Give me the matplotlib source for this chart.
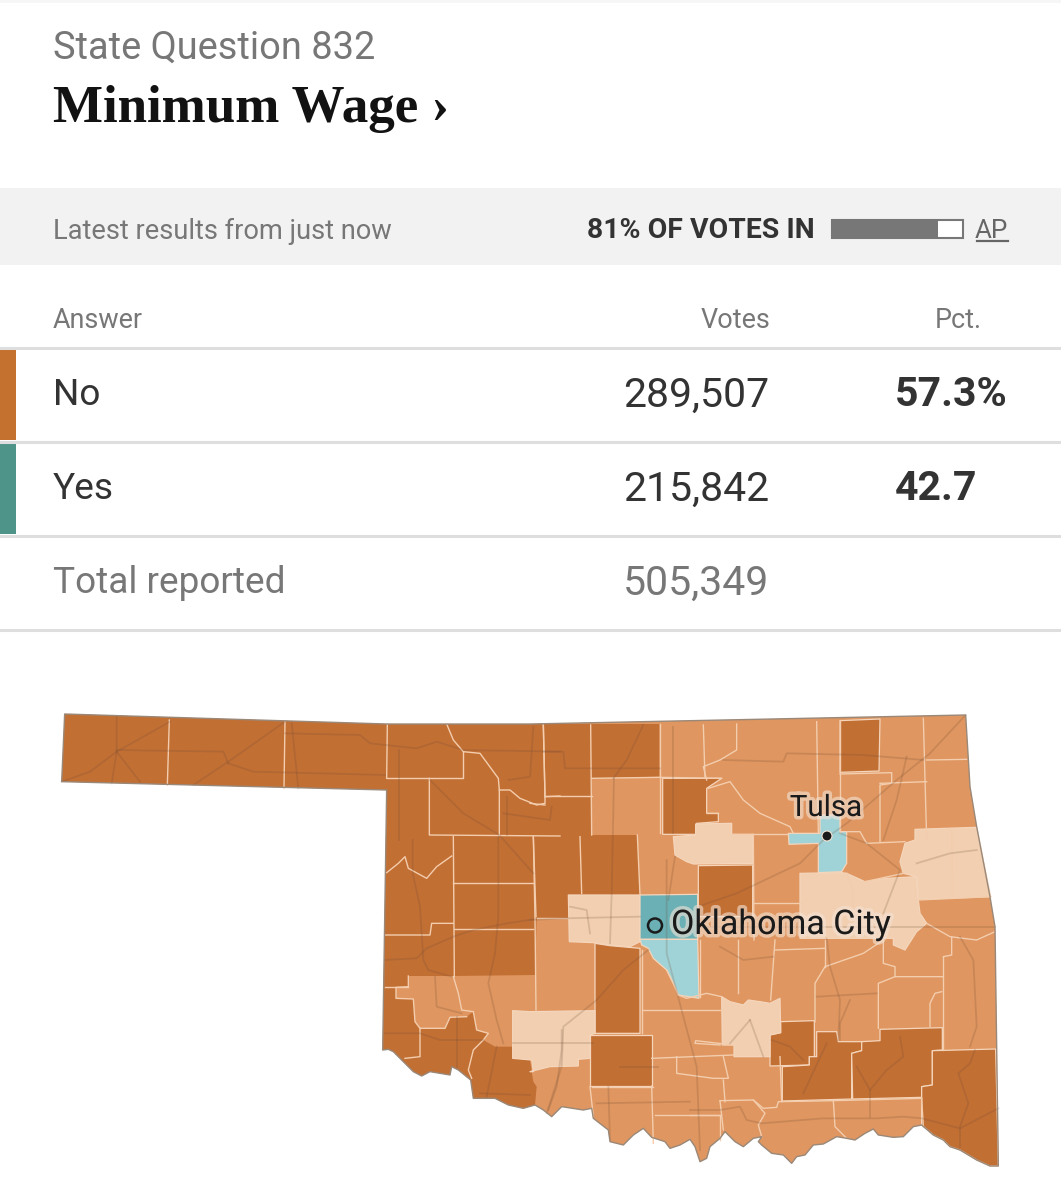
import matplotlib
matplotlib.use("Agg")
import matplotlib.pyplot as plt
from matplotlib.patches import Polygon, Rectangle, Circle
import matplotlib.patheffects as pe

W, H = 1061, 1200
SANS = "Roboto"

# ---------- table data ----------
kicker = "State Question 832"
title = "Minimum Wage ›"
status = "Latest results from just now"
votes_in_pct = 81
source = "AP"
headers = ["Answer", "Votes", "Pct."]
answers = ["No", "Yes"]
votes = ["289,507", "215,842"]
pcts = ["57.3%", "42.7"]
answer_colors = ["#C4712F", "#4F9489"]
total_label = "Total reported"
total_votes = "505,349"

# ---------- map geometry (traced outlines in crop frames) ----------
def A(pts): return [(40 + x / 3, 700 + y / 3) for x, y in pts]
def B(pts): return [(530 + x / 3, 700 + y / 3) for x, y in pts]
def C(pts): return [(380 + x / 3, 1030 + y / 3) for x, y in pts]
def D(pts): return [(690 + x / 3, 1030 + y / 3) for x, y in pts]

river_mccurtain = D([(925,408),(900,408),(860,390),(810,360),(780,350),(760,330),(730,315),(695,285)])
river_mid_east = D([(670,290),(640,320),(610,322),(565,315),(550,297),(525,310),(495,330),(470,325),(440,320),
    (400,342),(370,345),(345,375),(320,380),(305,400),(280,375),(245,370),(215,345),(205,335),(215,320),(190,325),
    (160,350),(135,335),(105,305),(90,325),(60,350),(50,385),(30,395),(15,350),(0,328)])
river_mid_west = C([(900,345),(870,355),(855,335),(815,322),(790,295),(760,315),(730,345),(690,335),(685,300),(640,265),
    (635,235),(610,240),(545,230),(515,260),(490,240)])
river_dark_west = C([(465,225),(430,235),(385,225),(345,205),(280,205),(272,150),(235,120),(215,110),(210,135),(180,130),
    (150,125),(125,138),(100,125),(70,95),(40,65),(25,58),(8,60)])
state_outline = (A([(74,42),(1040,72)]) + B([(0,72),(1307,45),(1320,260),(1340,380),(1380,590),(1395,680)])
    + river_mccurtain + river_mid_east + river_mid_west + river_dark_west + A([(1040,270),(65,245)]))

dark_west = (A([(74,42),(1040,72)]) + B([(0,72),(388,72),(388,230),(185,235),(185,405),(322,405),(330,585),(115,585),(115,655),(20,655)])
    + A([(1485,825),(1240,828),(1105,828),(1105,860),(1068,862),(1068,895),(1120,897),(1125,965),(1140,985),(1215,985),
         (1230,952),(1280,950),(1300,935),(1310,990),(1345,1000),(1330,1020),(1365,1040),(1420,1040),(1420,1075)])
    + C([(450,90),(455,125),(460,155),(470,170)])
    + river_dark_west + A([(1040,270),(65,245)]))
dark_counties = [
    B([(930,62),(1050,57),(1047,213),(930,217)]),
    B([(398,235),(575,235),(530,265),(530,340),(565,340),(565,365),(500,370),(497,403),(398,403)]),
    B([(505,497),(668,495),(668,650),(505,650)]),
    B([(195,730),(240,737),(330,745),(330,1000),(195,1000)]),
    B([(180,1005),(365,1005),(365,1158),(180,1158)]),
    B([(752,965),(853,962),(853,1070),(838,1070),(838,1095),(720,1098),(720,1005),(752,998)]),
    B([(860,995),(920,995),(925,1025),(995,1025),(995,1052),(965,1060),(965,1197),(757,1203),(757,1100),(838,1095),(838,1070),(860,1070)]),
    B([(1050,988),(1237,983),(1237,1050),(1207,1052),(1207,1155),(1175,1160),(1175,1192),(968,1197),(965,1060),(995,1052),(995,1025),(1050,1022)]),
    B([(1207,1052),(1397,1047)]) + river_mccurtain + B([(1175,1160),(1207,1155)]),
]
light_counties = [
    B([(430,410),(497,405),(497,372),(605,370),(605,403),(668,403),(668,490),(490,492),(470,485),(435,465)]),
    B([(115,585),(330,585),(330,725),(300,740),(240,735),(190,728),(118,725)]),
    B([(0,935),(195,932),(195,1000),(180,1005),(180,1075),(145,1078),(145,1098),(60,1100),(0,1115)]) + A([(1480,1115),(1475,1080),(1418,1075),(1418,932)]),
    B([(575,890),(600,905),(640,915),(655,900),(690,905),(720,910),(750,895),(752,998),(720,1005),(720,1070),(612,1070),(612,1035),(577,1035)]),
    B([(810,520),(935,518),(950,520),(1005,545),(1070,535),(1160,530),(1165,600),(1170,640),(1190,670),(1160,695),(1125,750),(1090,735),(1090,715),(810,715)]),
    B([(1155,388),(1340,382),(1382,590),(1165,598),(1160,530),(1120,520),(1110,485),(1125,430),(1155,420)]),
]
teal_dark_counties = [B([(330,585),(503,583),(503,718),(330,718)])]
teal_light_counties = [
    B([(330,718),(503,718),(507,895),(445,885),(430,850),(410,810),(370,775),(355,745),(335,735)]),
    B([(870,345),(930,345),(930,395),(950,395),(950,490),(935,515),(865,518),(865,430),(777,433),(775,400),(870,400)]),
]
county_lines = [A(p) for p in [
    [(388,60),(382,255)], [(735,65),(732,265)], [(1042,72),(1040,235)], [(1040,235),(1270,235),(1270,155)],
    [(1220,72),(1240,120),(1270,155),(1320,160),(1375,235),(1378,270),(1378,405)],
    [(1378,270),(1410,270),(1440,295),(1490,315),(1515,310),(1515,290),(1560,288)], [(1510,75),(1515,290)],
    [(1168,235),(1168,405),(1560,408)], [(1240,410),(1243,830)], [(1480,410),(1485,655),(1488,930)],
    [(1240,550),(1480,550)], [(1243,688),(1480,688)],
    [(1040,518),(1075,490),(1095,470),(1105,505),(1160,535),(1190,500),(1235,468)],
    [(1035,705),(1170,705),(1175,670),(1240,670)], [(1035,860),(1105,860)], [(1140,985),(1140,1070),(1095,1075)],
    [(1240,830),(1255,880),(1265,930),(1300,935)], [(1105,828),(1105,860),(1068,862),(1068,895),(1120,897),(1125,965),(1140,985),(1215,985),(1230,952),(1280,950)],
    [(1300,935),(1310,990),(1345,1000),(1330,1020),(1300,1050),(1285,1110),(1295,1135)],
]] + [B(p) for p in [
    [(40,75),(45,290)], [(182,75),(185,405)], [(45,288),(185,288)], [(0,310),(45,315)],
    [(10,410),(18,650)], [(150,410),(155,580)], [(322,405),(330,585)], [(20,655),(115,655)],
    [(390,72),(390,400)], [(520,75),(525,235)], [(620,72),(620,150),(570,180),(520,200),(530,240)],
    [(185,235),(390,232),(575,235)], [(535,265),(600,245),(640,300),(690,340),(780,380),(790,400)],
    [(530,340),(565,340)], [(605,403),(775,403)], [(860,65),(865,400)], [(930,60),(930,395)],
    [(930,222),(1085,218),(1085,250),(1050,255),(1050,425)], [(1180,55),(1190,420)],
    [(1190,180),(1310,178)], [(1050,250),(1190,245)], [(1010,430),(1125,425)], [(950,395),(990,395),(1010,430)],
    [(1120,520),(1005,545)], [(670,403),(672,720)], [(672,610),(810,610)], [(950,520),(968,570),(970,640)],
    [(1265,385),(1268,595)], [(1165,600),(1382,590)], [(1190,670),(1260,710),(1340,720),(1395,695)],
    [(510,720),(510,890)], [(625,720),(625,880)], [(735,720),(722,900)], [(735,750),(885,745)], [(885,720),(885,800)],
    [(885,800),(1000,760),(1060,720)], [(885,800),(855,850),(855,965)],
    [(1060,720),(1060,790),(1095,800),(1095,830),(1240,830)], [(1240,770),(1240,1050)], [(1240,770),(1265,765),(1265,710)],
    [(1095,830),(1045,850),(1045,985)], [(1235,875),(1215,880),(1200,910),(1200,980)],
    [(335,930),(575,930)], [(335,750),(335,1000)], [(365,1075),(610,1065)], [(610,1035),(497,1022),(495,1030),(570,1035)],
    [(440,1070),(440,1120),(550,1135),(595,1135),(580,1070)], [(365,1158),(370,1330)], [(185,1160),(370,1160)],
    [(375,1245),(570,1245),(570,1320)], [(585,1205),(580,1140)], [(750,1070),(755,1205)],
    [(180,1160),(190,1250)], [(1175,1195),(1180,1280)],
    [(575,890),(530,880),(470,895),(445,885)], [(445,885),(430,850),(410,810)],
]] + [D(p) for p in [
    [(90,212),(190,210),(220,235),(260,232),(265,215),(430,212),(695,205)], [(90,212),(100,300)],
    [(190,210),(225,250),(205,285),(215,320)], [(430,212),(435,290),(470,325)], [(0,255),(90,255)],
]]
road_lines = [A(p) for p in [
    [(65,245),(150,215),(230,155),(390,65)], [(230,50),(230,155),(215,250)], [(230,155),(300,245)],
    [(230,150),(550,155),(565,190)], [(460,255),(565,185),(735,65)], [(565,190),(640,215),(1035,225)],
    [(755,70),(775,265)], [(735,100),(960,105),(990,130),(1130,145),(1190,125),(1270,150),(1560,155)],
    [(1035,780),(1130,775),(1160,745),(1240,710),(1300,690),(1400,670),(1480,658)],
    [(1078,150),(1078,420)], [(1118,420),(1118,520),(1140,620),(1150,780),(1165,810),(1235,830)],
    [(1170,240),(1270,340),(1378,405),(1480,520)], [(1375,410),(1375,650),(1365,760),(1345,850),(1370,960),(1390,1030)],
    [(1185,830),(1190,920),(1265,940)], [(1035,1000),(1140,1000),(1200,1020),(1330,1020)],
    [(1250,950),(1250,1100)], [(1370,1040),(1340,1190)], [(1400,290),(1400,405)], [(1480,80),(1470,230),(1405,240)],
    [(1390,340),(1530,360),(1535,320)],
]] + [B(p) for p in [
    [(0,660),(100,655),(330,650)], [(503,620),(620,580),(810,490),(880,420)],
    [(355,750),(280,810),(200,900),(100,980),(95,1100),(50,1240)],
    [(410,480),(410,760),(460,950),(500,1100),(510,1350)], [(503,680),(1170,680),(1395,680)],
    [(252,235),(245,580),(240,730)], [(340,75),(290,180),(250,235)], [(430,80),(430,400)], [(40,155),(100,155),(105,205),(390,205)],
    [(580,180),(760,185),(770,160),(1000,165),(1180,180)], [(880,420),(950,370),(1100,240),(1200,160),(1307,45)],
    [(930,400),(1010,430),(1110,510),(1060,640)], [(1160,490),(1260,460),(1340,450)], [(1130,170),(1100,300),(1060,420)],
    [(890,715),(900,800),(930,900),(925,1020)], [(860,890),(1040,880)], [(960,900),(930,970),(930,1020)],
    [(1290,710),(1330,780),(1340,980),(1320,1040)],
    [(660,960),(600,1030)], [(660,960),(700,1070)], [(435,470),(415,600)], [(270,1100),(385,1100)], [(235,1160),(240,1320)],
    [(570,740),(640,780),(730,770)], [(120,620),(170,630),(180,700)],
]] + [D(p) for p in [
    [(0,240),(90,240),(150,230),(170,270),(215,280),(400,265),(560,265),(640,260),(695,265),(810,295),(925,235)],
    [(630,20),(640,80),(590,120),(540,180),(500,110)], [(340,190),(410,40)], [(855,60),(840,100),(805,130),(835,220),(810,290),(810,350)],
    [(245,30),(300,50),(340,90)], [(540,180),(540,260)],
]] + [C(p) for p in [
    [(545,0),(545,60),(530,170),(505,240)], [(400,40),(640,40)], [(650,220),(930,215)], [(300,190),(450,195)],
]]

# ---------- figure ----------
fig = plt.figure(figsize=(W / 100, H / 100), dpi=100, facecolor="white")
ax = fig.add_axes([0, 0, 1, 1])
ax.set_xlim(0, W); ax.set_ylim(H, 0); ax.axis("off")

def txt(x, y, s, px, color="#333333", ha="left", weight="normal", family=SANS, **kw):
    return ax.text(x, y + 2, s, fontsize=px * 0.72, color=color, ha=ha, va="center", fontweight=weight, family=family, **kw)

# header
ax.add_patch(Rectangle((0, 0), W, 3, fc="#F6F6F6", ec="none"))
txt(53, 46, kicker, 38, "#777777")
txt(53, 107, title, 53, "#121212", weight="bold", family="Liberation Serif")

# status band
ax.add_patch(Rectangle((0, 188), W, 77, fc="#F2F2F2", ec="none"))
txt(53, 229, status, 27.2, "#777777")
txt(587, 229, f"{votes_in_pct}% OF VOTES IN", 28.4, "#333333", weight="bold")
bx, by, bw, bh = 832, 220, 131, 18
ax.add_patch(Rectangle((bx, by), bw, bh, fc="white", ec="#777777", lw=1.5))
ax.add_patch(Rectangle((bx, by), bw * votes_in_pct / 100, bh, fc="#777777", ec="none"))
txt(1008, 229, source, 26, "#666666", ha="right")
ax.plot([977, 1008], [241, 241], color="#666666", lw=1.6)

# table
rule = "#DEDEDE"
txt(53, 319, headers[0], 27, "#777777")
txt(770, 319, headers[1], 27, "#777777", ha="right")
txt(982, 319, headers[2], 27, "#777777", ha="right")
ax.plot([0, W], [347.5, 347.5], color=rule, lw=2.2)
row_h = 94
num_px = 41
for i, (a, v, p, c) in enumerate(zip(answers, votes, pcts, answer_colors)):
    top = 349 + i * row_h
    ax.add_patch(Rectangle((0, top), 16, row_h - 3, fc=c, ec="none"))
    yc = top + 44
    txt(53, yc, a, 37, "#333333")
    txt(769, yc, v, num_px, "#333333", ha="right")
    txt(895, yc, p, num_px, "#333333", weight="bold")
    ax.plot([0, W], [top + row_h - 1.5] * 2, color=rule, lw=2.2)
yc = 349 + 2 * row_h + 44
txt(53, yc, total_label, 37, "#777777")
txt(769, yc, total_votes, num_px, "#777777", ha="right")
ax.plot([0, W], [629.5, 629.5], color=rule, lw=2.2)

# map
C_MID, C_DARK, C_LIGHT = "#DF9660", "#C26F34", "#F1CFB0"
C_TEAL_D, C_TEAL_L = "#6BB0B5", "#A0D3D7"
ax.add_patch(Polygon(state_outline, closed=True, fc=C_MID, ec="none", zorder=2))
ax.add_patch(Polygon(dark_west, closed=True, fc=C_DARK, ec="none", zorder=3))
for group, col in [(dark_counties, C_DARK), (light_counties, C_LIGHT), (teal_dark_counties, C_TEAL_D), (teal_light_counties, C_TEAL_L)]:
    for poly in group:
        ax.add_patch(Polygon(poly, closed=True, fc=col, ec="#F5D6BC", lw=0.9, zorder=3, joinstyle="round"))
for line in county_lines:
    xs, ys = zip(*line)
    ax.plot(xs, ys, color="#F3CDAD", lw=1.0, zorder=4, solid_joinstyle="round")
for line in road_lines:
    xs, ys = zip(*line)
    ax.plot(xs, ys, color="#6E4A33", alpha=0.20, lw=1.3, zorder=5, solid_joinstyle="round")
ax.add_patch(Polygon(state_outline, closed=True, fc="none", ec="#9A8878", lw=1.0, zorder=6, joinstyle="round"))

halo = [pe.withStroke(linewidth=5, foreground="#F4E3D6", alpha=0.6)]
txt(826, 806, "Tulsa", 29.5, "#1A1A1A", ha="center", zorder=8, path_effects=halo)
txt(671, 923, "Oklahoma City", 34, "#1A1A1A", zorder=8, path_effects=halo)
ax.add_patch(Circle((827, 836), 5, fc="#1A1A1A", ec="#F4E3D6", lw=0.8, zorder=8))
ax.add_patch(Circle((655, 925.5), 7, fc="none", ec="#1A1A1A", lw=1.8, zorder=8))

fig.savefig("out.png", dpi=100, facecolor="white")
